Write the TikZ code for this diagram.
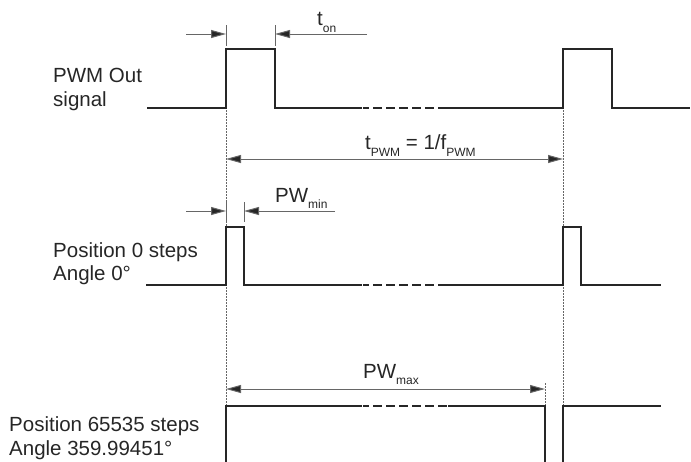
\documentclass[tikz,border=0pt]{standalone}
\usepackage{fontspec}
\setmainfont{Liberation Sans}
\usetikzlibrary{arrows.meta}
\newcommand\dsub[2][-7pt]{\raisebox{#1}{\fontsize{12}{12}\selectfont #2}}
\begin{document}
\begin{tikzpicture}[x=1pt,y=-1pt,
  sig/.style={draw=black!85,line width=1.7pt},
  brk/.style={sig,dash pattern={on 6pt off 4pt on 8.5pt off 4.5pt on 8.5pt off 4.5pt on 8.5pt off 4.5pt on 8.5pt off 4.5pt on 8.5pt off 4.5pt on 8.5pt off 4.5pt}},
  dim/.style={draw=black!60,line width=1pt},
  dimarrow/.style={dim,-{Triangle[length=15pt,width=8pt,fill=black!85]}},
  dimboth/.style={dim,{Triangle[length=15pt,width=8pt,fill=black!85]}-{Triangle[length=15pt,width=8pt,fill=black!85]}},
  guide/.style={draw=black!60,line width=0.7pt,dash pattern=on 1.5pt off 1.5pt},
  lbl/.style={anchor=base west,inner sep=0pt,font=\fontsize{20.5}{24}\selectfont,text=black!85}
]
\useasboundingbox (0,0) rectangle (691,461);

% ---- guide lines
\coordinate (g1t) at (226,110); \coordinate (g1b) at (226,405);
\coordinate (g2t) at (563,110); \coordinate (g2b) at (563,405);
\coordinate (g3t) at (545,383); \coordinate (g3b) at (545,405);
\draw[guide] (g1t) -- (g1b);
\draw[guide] (g2t) -- (g2b);
\draw[guide] (g3t) -- (g3b);

% ---- signal 1
\draw[sig] (147,108) -- (226,108) -- (226,49) -- (275,49) -- (275,108) -- (362,108);
\draw[brk] (363,108) -- (440,108);
\draw[sig] (440,108) -- (563,108) -- (563,49) -- (612,49) -- (612,108) -- (690,108);

% ---- signal 2
\draw[sig] (146,285) -- (226,285) -- (226,227) -- (244,227) -- (244,285) -- (362,285);
\draw[brk] (363,285) -- (440,285);
\draw[sig] (440,285) -- (563,285) -- (563,227) -- (581,227) -- (581,285) -- (661,285);

% ---- signal 3
\draw[sig] (226,462) -- (226,406) -- (362,406);
\draw[brk] (363,406) -- (448,406);
\draw[sig] (448,406) -- (545,406) -- (545,462);
\draw[sig] (563,462) -- (563,406) -- (661,406);

% ---- t_on dimension
\coordinate (on1) at (226,34); \coordinate (on2) at (275,34);
\coordinate (onL) at (186,34); \coordinate (onR) at (367,34);
\draw[dim] (226,25) -- (226,46);
\draw[dim] (275,25) -- (275,46);
\draw[dimarrow] (onL) -- (on1);
\draw[dimarrow] (onR) -- (on2);
\node[lbl] (ton) at (317,25) {t\dsub{on}};

% ---- t_PWM dimension
\coordinate (p1) at (226,159); \coordinate (p2) at (563,159);
\draw[dimboth] (p1) -- (p2);
\node[lbl] (tpwm) at (365,149) {t\dsub{PWM} = 1/f\dsub{PWM}};

% ---- PW_min dimension
\coordinate (m1) at (226,211); \coordinate (m2) at (244,211);
\coordinate (mL) at (186,211); \coordinate (mR) at (335,211);
\draw[dim] (226,202) -- (226,222);
\draw[dim] (244,202) -- (244,222);
\draw[dimarrow] (mL) -- (m1);
\draw[dimarrow] (mR) -- (m2);
\node[lbl] (pwmin) at (275,202) {PW\dsub[-6pt]{min}};

% ---- PW_max dimension
\coordinate (x1) at (226,389); \coordinate (x2) at (545,389);
\draw[dimboth] (x1) -- (x2);
\node[lbl] (pwmax) at (363,378) {PW\dsub[-6pt]{max}};

% ---- signal labels
\node[lbl] (l1a) at (53,82) {PWM Out};
\node[lbl] (l1b) at (53,106) {signal};
\node[lbl] (l2a) at (53,257) {Position 0 steps};
\node[lbl] (l2b) at (53,280) {Angle 0°};
\node[lbl] (l3a) at (9,431) {Position 65535 steps};
\node[lbl] (l3b) at (9,455) {Angle 359.99451°};
\end{tikzpicture}
\end{document}
